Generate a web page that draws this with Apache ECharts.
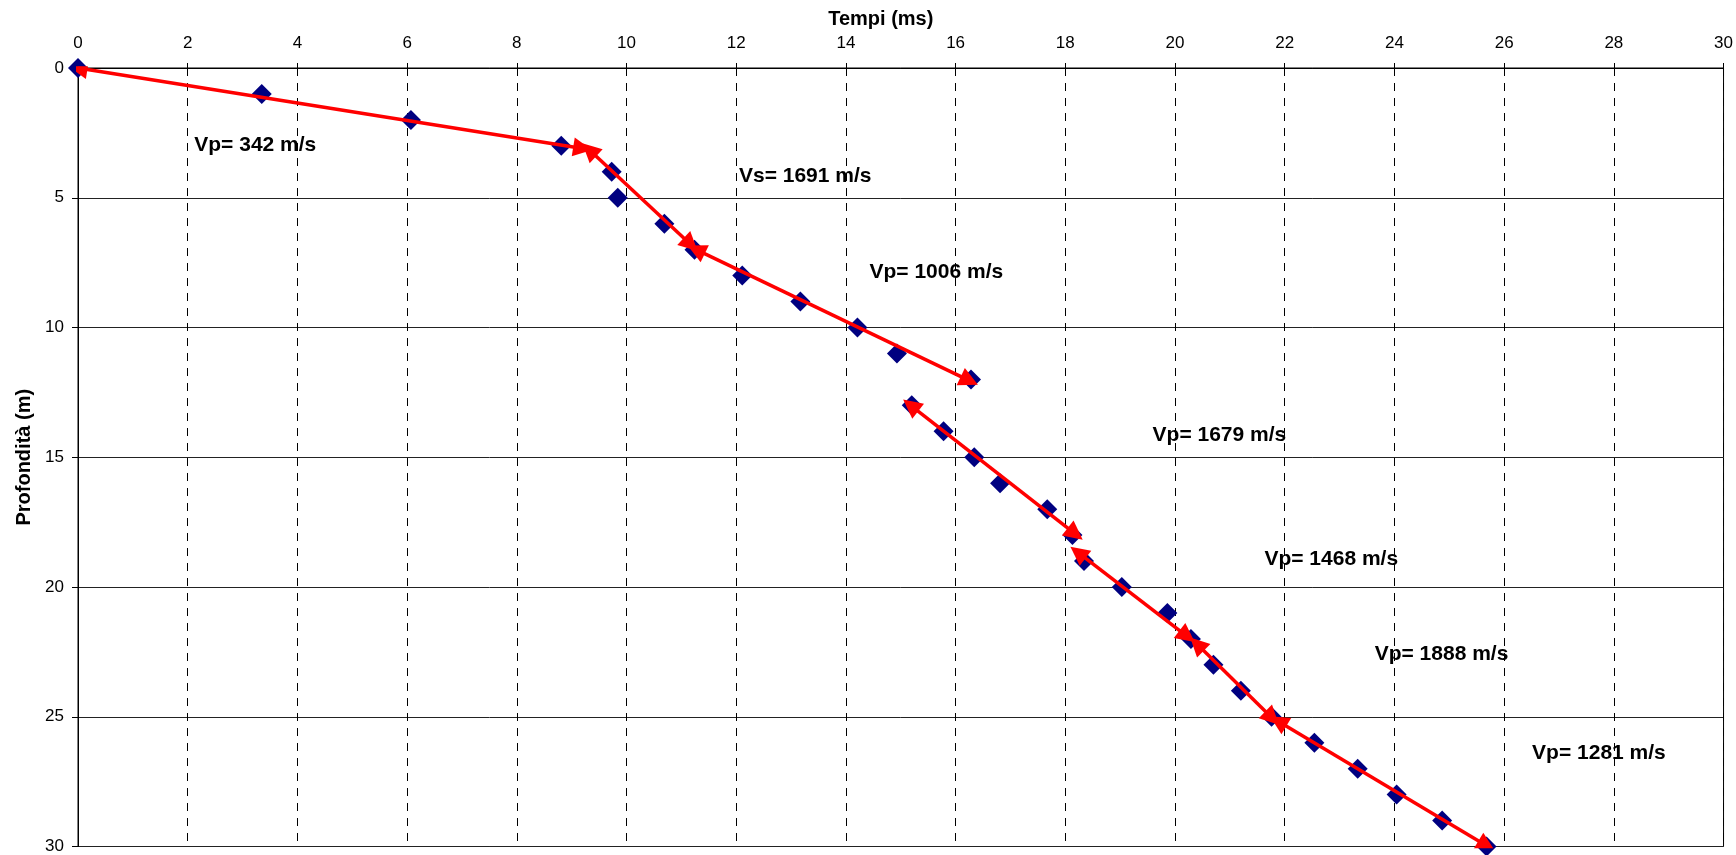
<!DOCTYPE html>
<html>
<head>
<meta charset="utf-8">
<script src="https://cdn.jsdelivr.net/npm/echarts@6/dist/echarts.min.js"></script>
<style>
  html, body { margin: 0; padding: 0; background: #fff; }
  #main { width: 1736px; height: 855px; }
</style>
</head>
<body>
<div id="main"></div>
<script>
// misure: tempo di arrivo (ms) per ogni profondita (m)
var tempi = [0, 3.35, 6.07, 8.81, 9.73, 9.84, 10.69, 11.24, 12.11, 13.17, 14.21, 14.93, 16.28,
  15.2, 15.78, 16.34, 16.81, 17.67, 18.13, 18.34, 19.03, 19.86, 20.29, 20.7, 21.2, 21.76,
  22.54, 23.33, 24.04, 24.87, 25.68];
var profondita = [0, 1, 2, 3, 4, 5, 6, 7, 8, 9, 10, 11, 12, 13, 14, 15, 16, 17, 18, 19, 20,
  21, 22, 23, 24, 25, 26, 27, 28, 29, 30];

// rette di regressione (frecce rosse): inizio e fine
var frecceT0 = [0, 9.32, 11.27, 15.18, 18.23, 20.4, 21.88];
var frecceD0 = [0, 3.15, 7.0, 13.0, 18.67, 22.2, 25.17];
var frecceT1 = [9.2, 11.17, 16.25, 18.18, 20.22, 21.77, 25.68];
var frecceD1 = [3.1, 6.8, 12.05, 17.95, 21.9, 25.05, 29.97];

// etichette velocita
var etichette = ['Vp= 342 m/s', 'Vs= 1691 m/s', 'Vp= 1006 m/s', 'Vp= 1679 m/s',
  'Vp= 1468 m/s', 'Vp= 1888 m/s', 'Vp= 1281 m/s'];
var etichetteT = [2.12, 12.05, 14.43, 19.59, 21.63, 23.64, 26.51];
var etichetteD = [2.98, 4.18, 7.86, 14.16, 18.94, 22.59, 26.39];

var font = "'Liberation Sans', Arial, sans-serif";
var chart = echarts.init(document.getElementById('main'));

var punti = tempi.map(function (t, i) { return [t, profondita[i]]; });
var frecce = frecceT0.map(function (t, i) {
  return { coords: [[t, frecceD0[i]], [frecceT1[i], frecceD1[i]]] };
});
var testi = etichette.map(function (s, i) {
  return { value: [etichetteT[i], etichetteD[i]], name: s };
});

var option = {
  backgroundColor: '#fff',
  animation: false,
  textStyle: { fontFamily: font },
  grid: {
    left: 78, right: 8, top: 68, bottom: 7,
    show: true, borderColor: '#000', borderWidth: 1
  },
  xAxis: {
    type: 'value',
    position: 'top',
    min: 0, max: 30, interval: 2,
    name: 'Tempi (ms)',
    nameLocation: 'middle',
    nameGap: 39,
    nameTextStyle: { fontSize: 20, fontWeight: 'bold', color: '#000', fontFamily: font, padding: [0, 40, 0, 0] },
    axisLine: { show: true, lineStyle: { color: '#000', width: 1 } },
    axisTick: { show: true, length: 5, lineStyle: { color: '#000' } },
    axisLabel: { fontSize: 17, color: '#000', margin: 16, fontFamily: font, showMinLabel: true, showMaxLabel: true },
    splitLine: { show: true, lineStyle: { color: '#000', width: 1, type: [8, 7] } }
  },
  yAxis: {
    type: 'value',
    inverse: true,
    min: 0, max: 30, interval: 5,
    name: 'Profondità (m)',
    nameLocation: 'middle',
    nameRotate: 90,
    nameGap: 44,
    nameTextStyle: { fontSize: 20, fontWeight: 'bold', color: '#000', fontFamily: font },
    axisLine: { show: true, lineStyle: { color: '#000', width: 1 } },
    axisTick: { show: true, length: 6, lineStyle: { color: '#000' } },
    axisLabel: { fontSize: 17, color: '#000', margin: 14, fontFamily: font, showMinLabel: true, showMaxLabel: true },
    splitLine: { show: true, lineStyle: { color: '#222', width: 1 } }
  },
  series: [
    {
      type: 'scatter',
      symbol: 'diamond',
      symbolSize: 20,
      itemStyle: { color: '#000080', opacity: 1 },
      data: punti,
      z: 2
    },
    {
      type: 'lines',
      coordinateSystem: 'cartesian2d',
      symbol: ['triangle', 'triangle'],
      symbolSize: 19,
      symbolOffset: [0, '50%'],
      lineStyle: { color: '#ff0000', width: 3.5, opacity: 1, curveness: 0 },
      data: frecce,
      z: 3
    },
    {
      type: 'scatter',
      symbolSize: 0,
      itemStyle: { opacity: 1 },
      data: testi,
      label: {
        show: true,
        position: 'right',
        distance: 0,
        formatter: function (p) { return p.name; },
        fontSize: 21,
        fontWeight: 'bold',
        color: '#000',
        opacity: 1,
        fontFamily: font
      },
      z: 4
    }
  ]
};
chart.setOption(option);
</script>
</body>
</html>
